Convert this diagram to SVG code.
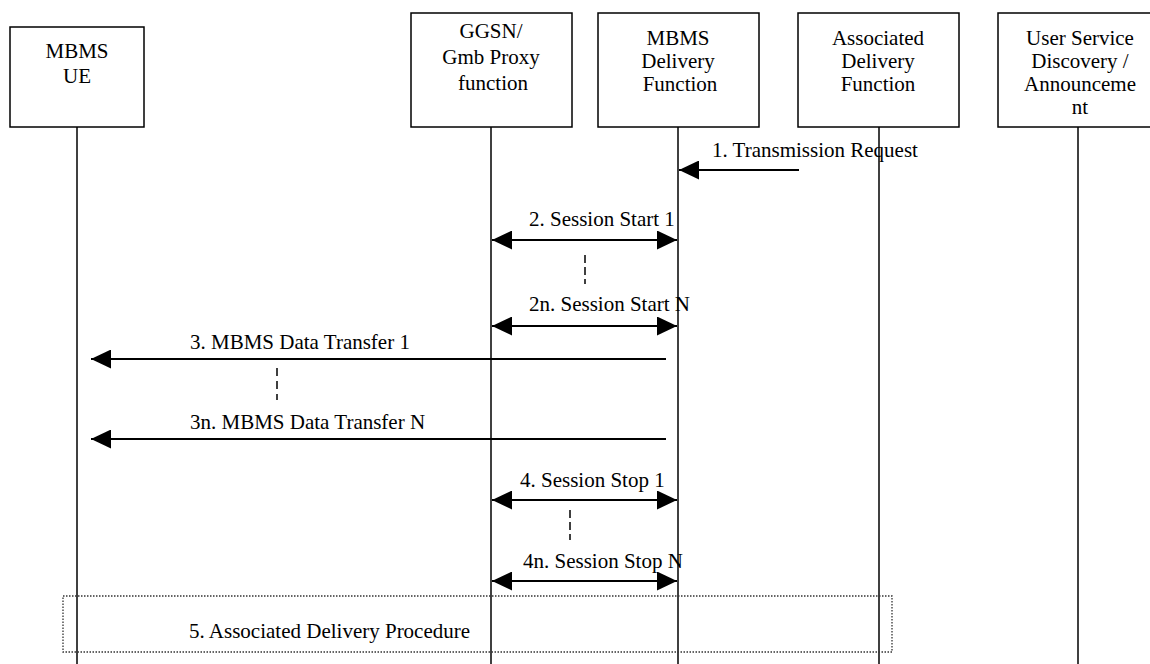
<svg xmlns="http://www.w3.org/2000/svg" width="1150" height="664" viewBox="0 0 1150 664">
<style>
  .box { fill: #fff; stroke: #000; stroke-width: 1.5; }
  .life { stroke: #000; stroke-width: 1.5; fill: none; }
  .msg { stroke: #000; stroke-width: 2; fill: none; }
  .cont { stroke: #000; stroke-width: 1.5; stroke-dasharray: 8 4; fill: none; }
  .proc { fill: none; stroke: #333; stroke-width: 1.3; stroke-dasharray: 1.5 1.5; }
  text { font-family: "Liberation Serif", "Times New Roman", serif; font-size: 21px; fill: #000; }
  .c { text-anchor: middle; }
</style>
<defs>
  <marker id="ah" markerUnits="userSpaceOnUse" markerWidth="20" markerHeight="19" refX="20" refY="9.5" orient="auto-start-reverse">
    <path d="M0,0 L20,9.5 L0,19 z" fill="#000"/>
  </marker>
</defs>

<g id="lifelines">
  <line class="life" x1="77" y1="127" x2="77" y2="664"/>
  <line class="life" x1="491" y1="127" x2="491" y2="664"/>
  <line class="life" x1="678" y1="127" x2="678" y2="664"/>
  <line class="life" x1="879" y1="127" x2="879" y2="664"/>
  <line class="life" x1="1078" y1="127" x2="1078" y2="664"/>
</g>

<g id="node-ue">
  <rect class="box" x="10" y="27" width="134" height="100"/>
  <text class="c" x="77" y="58">MBMS</text>
  <text class="c" x="77" y="83">UE</text>
</g>
<g id="node-ggsn">
  <rect class="box" x="411" y="13" width="161" height="114"/>
  <text class="c" x="491" y="38">GGSN/</text>
  <text class="c" x="491" y="64">Gmb Proxy</text>
  <text class="c" x="493" y="90">function</text>
</g>
<g id="node-mbms-df">
  <rect class="box" x="598" y="13" width="161" height="114"/>
  <text class="c" x="678" y="45">MBMS</text>
  <text class="c" x="678" y="68">Delivery</text>
  <text class="c" x="680" y="91">Function</text>
</g>
<g id="node-adf">
  <rect class="box" x="798" y="13" width="161" height="114"/>
  <text class="c" x="878" y="45">Associated</text>
  <text class="c" x="878" y="68">Delivery</text>
  <text class="c" x="878" y="91">Function</text>
</g>
<g id="node-usd">
  <rect class="box" x="998" y="13" width="164" height="114"/>
  <text class="c" x="1080" y="45">User Service</text>
  <text class="c" x="1080" y="68">Discovery /</text>
  <text class="c" x="1080" y="91">Announceme</text>
  <text class="c" x="1080" y="114">nt</text>
</g>

<g id="connectors">
  <line class="msg" x1="799" y1="170" x2="679" y2="170" marker-end="url(#ah)"/>
  <line class="msg" x1="492" y1="240" x2="677" y2="240" marker-start="url(#ah)" marker-end="url(#ah)"/>
  <line class="cont" x1="585" y1="255" x2="585" y2="284"/>
  <line class="msg" x1="492" y1="326" x2="677" y2="326" marker-start="url(#ah)" marker-end="url(#ah)"/>
  <line class="msg" x1="666" y1="359" x2="91" y2="359" marker-end="url(#ah)"/>
  <line class="cont" x1="277" y1="368" x2="277" y2="400" style="stroke-dasharray:8 5"/>
  <line class="msg" x1="666" y1="439" x2="91" y2="439" marker-end="url(#ah)"/>
  <line class="msg" x1="492" y1="500" x2="677" y2="500" marker-start="url(#ah)" marker-end="url(#ah)"/>
  <line class="cont" x1="570" y1="510" x2="570" y2="540"/>
  <line class="msg" x1="492" y1="581" x2="677" y2="581" marker-start="url(#ah)" marker-end="url(#ah)"/>
</g>

<g id="labels">
  <text x="712" y="157">1. Transmission Request</text>
  <text x="529" y="226">2. Session Start 1</text>
  <text x="529" y="311">2n. Session Start N</text>
  <text x="190" y="349">3. MBMS Data Transfer 1</text>
  <text x="190" y="429">3n. MBMS Data Transfer N</text>
  <text x="520" y="487">4. Session Stop 1</text>
  <text x="523" y="568">4n. Session Stop N</text>
</g>

<g id="procedure-5">
  <rect class="proc" x="63" y="596" width="829" height="56"/>
  <text x="189" y="638">5. Associated Delivery Procedure</text>
</g>
</svg>
